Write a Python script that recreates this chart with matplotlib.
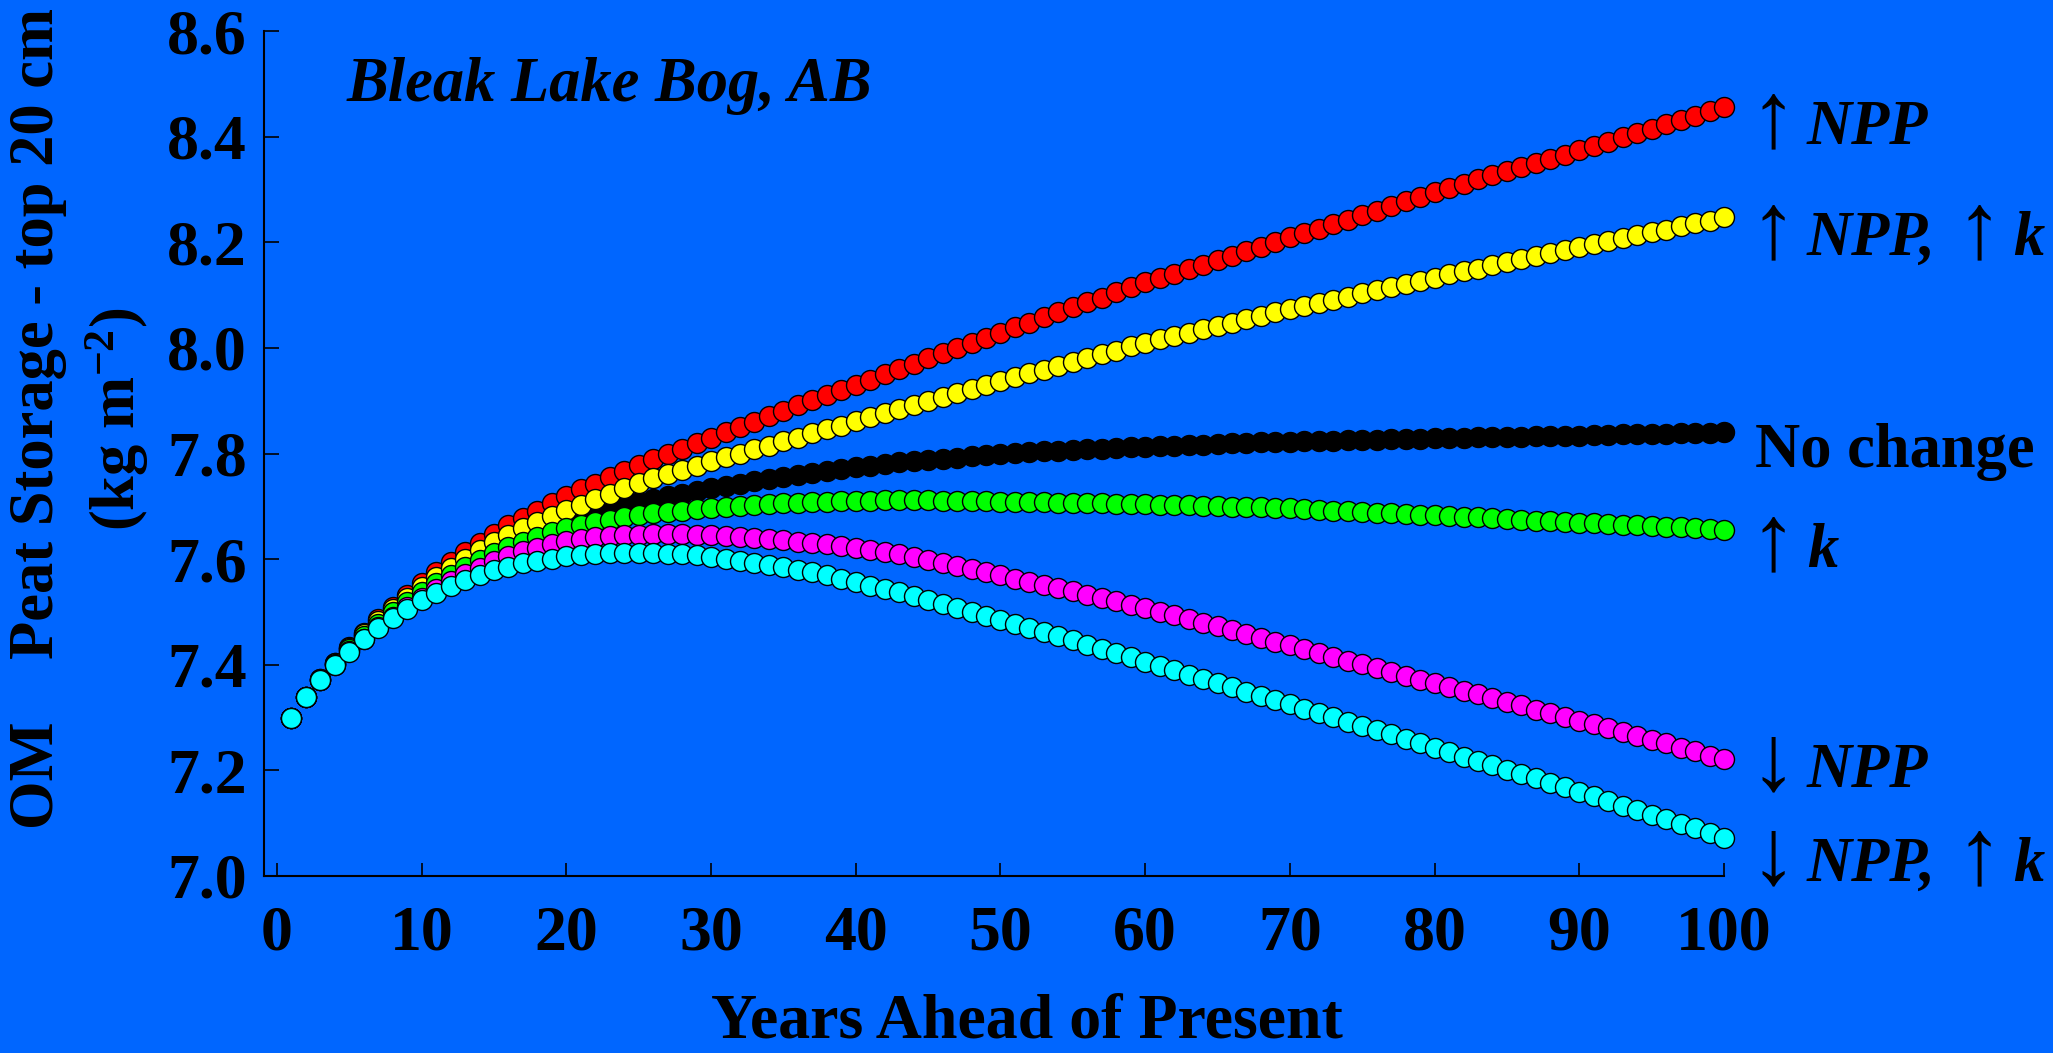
import matplotlib.pyplot as plt

# fonts: Times-like bold serif everywhere
plt.rcParams['font.family'] = ['Liberation Serif', 'DejaVu Serif']
plt.rcParams['font.weight'] = 'bold'
plt.rcParams['mathtext.fontset'] = 'custom'
plt.rcParams['mathtext.rm'] = 'Liberation Serif:bold'
plt.rcParams['mathtext.it'] = 'Liberation Serif:bold:italic'
plt.rcParams['mathtext.bf'] = 'Liberation Serif:bold'

# years ahead of present
years = list(range(1, 101))

# OM peat storage, top 20 cm (kg m-2), one value per year
no_change = [
    7.300, 7.338, 7.372, 7.402, 7.430, 7.455, 7.479, 7.501, 7.522, 7.541,
    7.559, 7.576, 7.592, 7.607, 7.621, 7.633, 7.644, 7.654, 7.664, 7.673,
    7.681, 7.688, 7.695, 7.702, 7.708, 7.714, 7.719, 7.724, 7.729, 7.734,
    7.739, 7.743, 7.747, 7.752, 7.756, 7.760, 7.764, 7.767, 7.771, 7.774,
    7.777, 7.780, 7.783, 7.785, 7.788, 7.790, 7.792, 7.795, 7.797, 7.799,
    7.801, 7.802, 7.804, 7.805, 7.807, 7.808, 7.809, 7.811, 7.812, 7.813,
    7.814, 7.815, 7.816, 7.817, 7.818, 7.819, 7.820, 7.821, 7.821, 7.822,
    7.823, 7.824, 7.824, 7.825, 7.826, 7.826, 7.827, 7.828, 7.828, 7.829,
    7.829, 7.830, 7.831, 7.831, 7.832, 7.832, 7.833, 7.833, 7.834, 7.834,
    7.835, 7.835, 7.836, 7.836, 7.837, 7.837, 7.838, 7.838, 7.839, 7.840]

up_npp = [
    7.300, 7.338, 7.373, 7.404, 7.434, 7.460, 7.486, 7.510, 7.533, 7.554,
    7.575, 7.594, 7.613, 7.631, 7.648, 7.664, 7.678, 7.692, 7.706, 7.719,
    7.732, 7.743, 7.755, 7.767, 7.778, 7.789, 7.799, 7.809, 7.820, 7.830,
    7.841, 7.850, 7.860, 7.871, 7.881, 7.891, 7.901, 7.910, 7.921, 7.930,
    7.940, 7.950, 7.960, 7.970, 7.980, 7.990, 7.999, 8.010, 8.019, 8.029,
    8.039, 8.048, 8.058, 8.067, 8.077, 8.086, 8.095, 8.106, 8.115, 8.124,
    8.132, 8.140, 8.149, 8.157, 8.166, 8.174, 8.183, 8.191, 8.200, 8.209,
    8.217, 8.226, 8.235, 8.243, 8.252, 8.260, 8.269, 8.278, 8.286, 8.295,
    8.303, 8.311, 8.319, 8.327, 8.335, 8.343, 8.351, 8.358, 8.366, 8.374,
    8.382, 8.390, 8.399, 8.407, 8.415, 8.423, 8.431, 8.440, 8.448, 8.456]

up_npp_up_k = [
    7.300, 7.338, 7.373, 7.403, 7.432, 7.458, 7.482, 7.505, 7.527, 7.547,
    7.566, 7.584, 7.601, 7.617, 7.632, 7.646, 7.658, 7.670, 7.682, 7.693,
    7.703, 7.713, 7.724, 7.734, 7.744, 7.753, 7.761, 7.769, 7.777, 7.785,
    7.793, 7.800, 7.808, 7.815, 7.823, 7.830, 7.838, 7.846, 7.853, 7.861,
    7.869, 7.876, 7.884, 7.891, 7.899, 7.907, 7.914, 7.922, 7.929, 7.937,
    7.944, 7.952, 7.959, 7.966, 7.974, 7.981, 7.988, 7.995, 8.003, 8.010,
    8.016, 8.023, 8.029, 8.035, 8.041, 8.048, 8.054, 8.060, 8.067, 8.073,
    8.079, 8.085, 8.091, 8.097, 8.103, 8.109, 8.115, 8.121, 8.127, 8.133,
    8.139, 8.145, 8.150, 8.156, 8.162, 8.168, 8.174, 8.179, 8.185, 8.191,
    8.197, 8.202, 8.208, 8.213, 8.219, 8.224, 8.230, 8.236, 8.241, 8.247]

up_k = [
    7.300, 7.338, 7.372, 7.402, 7.429, 7.454, 7.477, 7.499, 7.519, 7.537,
    7.554, 7.570, 7.585, 7.599, 7.612, 7.623, 7.633, 7.642, 7.651, 7.658,
    7.664, 7.670, 7.675, 7.680, 7.684, 7.687, 7.690, 7.692, 7.694, 7.696,
    7.698, 7.700, 7.702, 7.704, 7.706, 7.707, 7.708, 7.709, 7.710, 7.711,
    7.711, 7.712, 7.712, 7.712, 7.712, 7.711, 7.711, 7.710, 7.710, 7.709,
    7.709, 7.708, 7.708, 7.707, 7.707, 7.706, 7.706, 7.705, 7.705, 7.704,
    7.703, 7.703, 7.702, 7.701, 7.700, 7.699, 7.698, 7.698, 7.697, 7.696,
    7.695, 7.693, 7.692, 7.691, 7.690, 7.688, 7.687, 7.686, 7.684, 7.683,
    7.682, 7.680, 7.679, 7.677, 7.676, 7.675, 7.673, 7.672, 7.670, 7.669,
    7.668, 7.666, 7.665, 7.664, 7.662, 7.661, 7.660, 7.659, 7.657, 7.656]

down_npp = [
    7.300, 7.338, 7.372, 7.400, 7.426, 7.449, 7.471, 7.491, 7.510, 7.527,
    7.543, 7.558, 7.571, 7.584, 7.596, 7.606, 7.615, 7.622, 7.629, 7.635,
    7.639, 7.642, 7.644, 7.645, 7.646, 7.647, 7.647, 7.647, 7.646, 7.645,
    7.644, 7.642, 7.640, 7.638, 7.636, 7.633, 7.631, 7.628, 7.625, 7.622,
    7.618, 7.613, 7.609, 7.604, 7.598, 7.593, 7.587, 7.581, 7.575, 7.569,
    7.563, 7.557, 7.551, 7.545, 7.539, 7.533, 7.526, 7.520, 7.513, 7.507,
    7.500, 7.494, 7.487, 7.480, 7.473, 7.466, 7.459, 7.451, 7.444, 7.437,
    7.430, 7.423, 7.415, 7.408, 7.401, 7.394, 7.387, 7.379, 7.372, 7.365,
    7.358, 7.351, 7.344, 7.337, 7.330, 7.323, 7.315, 7.308, 7.301, 7.294,
    7.287, 7.280, 7.272, 7.265, 7.258, 7.251, 7.243, 7.236, 7.228, 7.221]

down_npp_up_k = [
    7.300, 7.338, 7.371, 7.399, 7.425, 7.448, 7.469, 7.488, 7.506, 7.522,
    7.536, 7.549, 7.560, 7.570, 7.579, 7.586, 7.592, 7.597, 7.601, 7.605,
    7.608, 7.610, 7.611, 7.612, 7.612, 7.611, 7.610, 7.609, 7.607, 7.604,
    7.601, 7.597, 7.593, 7.589, 7.585, 7.580, 7.575, 7.569, 7.563, 7.557,
    7.550, 7.544, 7.538, 7.531, 7.523, 7.515, 7.508, 7.500, 7.492, 7.484,
    7.477, 7.470, 7.462, 7.454, 7.446, 7.438, 7.430, 7.422, 7.414, 7.406,
    7.398, 7.390, 7.381, 7.373, 7.365, 7.357, 7.349, 7.341, 7.333, 7.325,
    7.317, 7.309, 7.301, 7.292, 7.284, 7.276, 7.268, 7.259, 7.251, 7.243,
    7.235, 7.226, 7.218, 7.210, 7.201, 7.193, 7.185, 7.176, 7.168, 7.159,
    7.151, 7.142, 7.133, 7.125, 7.116, 7.107, 7.098, 7.090, 7.081, 7.072]

x_ticks = [0, 10, 20, 30, 40, 50, 60, 70, 80, 90, 100]
y_ticks = [7.0, 7.2, 7.4, 7.6, 7.8, 8.0, 8.2, 8.4, 8.6]

bg = '#0066ff'
W, H = 2053, 1053

fig = plt.figure(figsize=(W / 100, H / 100), dpi=100, facecolor=bg)
ax = fig.add_axes([263.5 / W, 1 - 876 / H, (1724 - 263.5) / W, (876 - 31) / H])
ax.set_facecolor(bg)

# drawing order: later series sit on top
series = [
    (no_change, 'black'),
    (up_npp, '#ff0000'),
    (up_npp_up_k, '#ffff00'),
    (up_k, '#00ff00'),
    (down_npp, '#ff00ff'),
    (down_npp_up_k, '#00ffff'),
]
for vals, col in series:
    ax.plot(years, vals, linestyle='none', marker='o', markersize=14.4,
            markerfacecolor=col, markeredgecolor='black',
            markeredgewidth=1.0, clip_on=False)

ax.set_xlim(-0.93, 100)
ax.set_ylim(7.0, 8.6)
ax.set_xticks(x_ticks)
ax.set_xticklabels([str(v) for v in x_ticks])
ax.set_yticks(y_ticks)
ax.set_yticklabels(['%.1f' % v for v in y_ticks])

for side in ['top', 'right']:
    ax.spines[side].set_visible(False)
for side in ['left', 'bottom']:
    ax.spines[side].set_linewidth(1.5)
    ax.spines[side].set_color('black')

ax.tick_params(axis='both', direction='in', width=1.2, colors='black',
               labelsize=46)
ax.tick_params(axis='x', length=9.5, pad=21)
ax.tick_params(axis='y', length=10.5, pad=12)


def ftext(x, y, s, **kw):
    # place text by pixel position in the 2053x1053 figure
    return fig.text(x / W, 1 - y / H, s, **kw)


# axis titles
ftext(1026.5, 1052, 'Years Ahead of Present', ha='center', va='bottom',
      fontsize=46)
ftext(38.5, 418, 'OM    Peat Storage - top 20 cm', rotation=90, ha='center',
      va='center', fontsize=45)
ftext(117, 419, r'(kg m$^{-2}$)', rotation=90, ha='center', va='center',
      fontsize=45)

# site name
ftext(347, 101, 'Bleak Lake Bog, AB', ha='left', va='baseline', fontsize=45,
      style='italic')

# scenario labels on the right
arrow_x = 1773
text_x = 1807
lab = dict(ha='left', va='baseline', fontsize=45, style='italic')
arr = dict(ha='center', va='baseline', fontsize=68, fontweight='normal')

ftext(arrow_x, 146, '\u2191', **arr)
ftext(text_x, 144, 'NPP', **lab)

ftext(arrow_x, 257, '\u2191', **arr)
ftext(text_x, 255, 'NPP,', **lab)
ftext(1979, 257, '\u2191', **arr)
ftext(2013, 255, 'k', **lab)

ftext(1755, 467, 'No change', ha='left', va='baseline', fontsize=45)

ftext(arrow_x, 569, '\u2191', **arr)
ftext(text_x, 567, 'k', **lab)

ftext(arrow_x, 789, '\u2193', **arr)
ftext(text_x, 787, 'NPP', **lab)

ftext(arrow_x, 883, '\u2193', **arr)
ftext(text_x, 881, 'NPP,', **lab)
ftext(1979, 883, '\u2191', **arr)
ftext(2013, 881, 'k', **lab)

plt.savefig('out.png', dpi=100, facecolor=bg)
